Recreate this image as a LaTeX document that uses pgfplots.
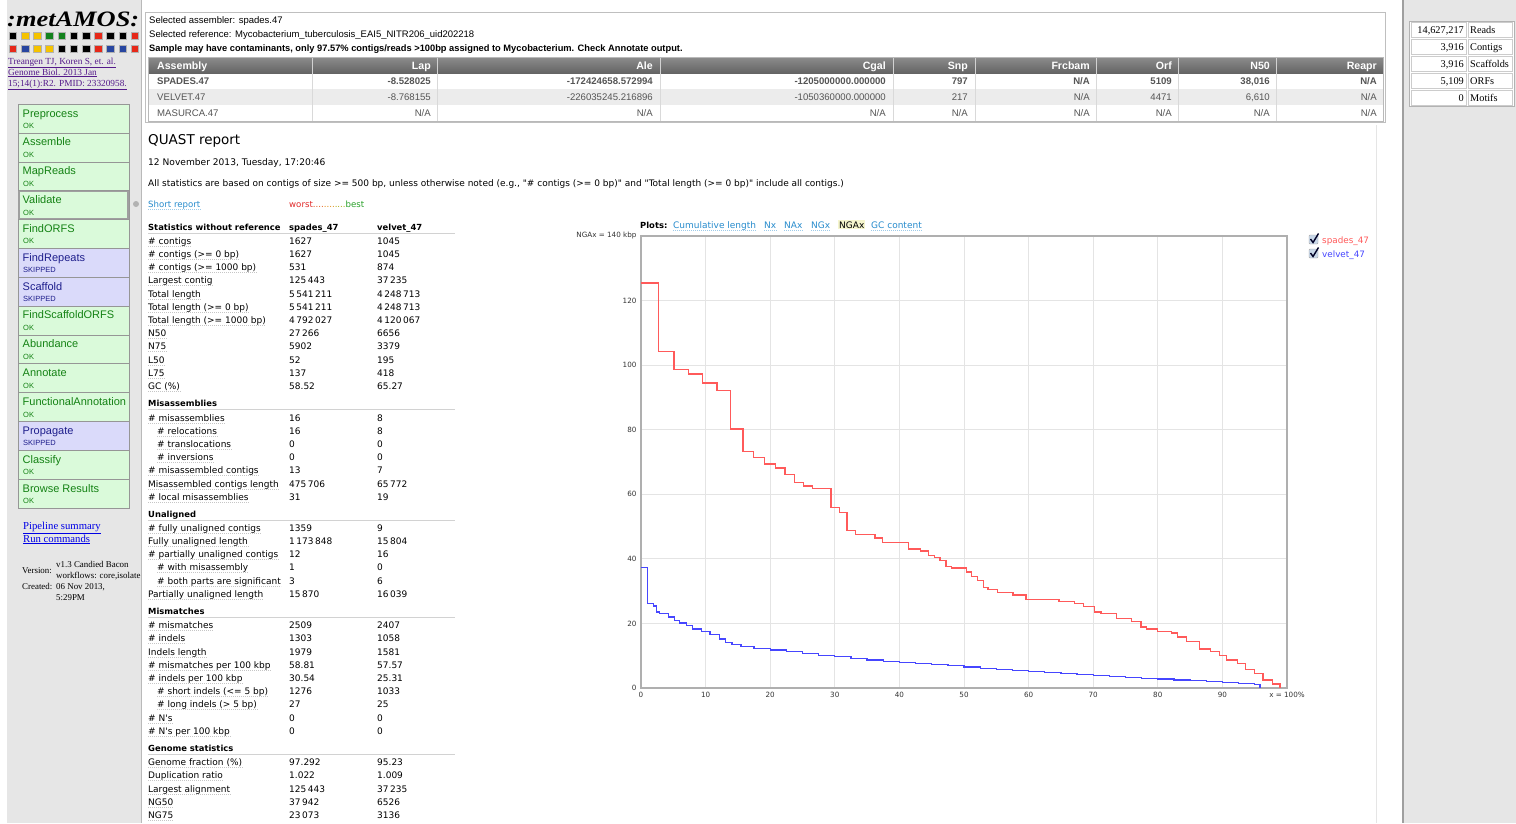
\documentclass[border=0pt]{standalone}
\usepackage{pgfplots}
\pgfplotsset{compat=1.18}
\usepackage{fontspec}
\setmainfont{Liberation Sans}
\newfontfamily\dv{DejaVu Sans}
\newfontfamily\tms{Liberation Serif}

\definecolor{sidebg}{RGB}{230,230,230}
\definecolor{okfill}{RGB}{218,250,218}
\definecolor{oktext}{RGB}{20,130,20}
\definecolor{skfill}{RGB}{218,218,250}
\definecolor{sktext}{RGB}{30,30,140}
\definecolor{btnborder}{RGB}{150,150,150}
\definecolor{linkblue}{RGB}{40,140,205}
\definecolor{spred}{RGB}{255,90,90}
\definecolor{vblue}{RGB}{70,70,255}
\definecolor{visited}{RGB}{85,26,139}
\definecolor{hdrtop}{RGB}{140,140,140}
\definecolor{hdrbot}{RGB}{100,100,100}
\definecolor{rowgray}{RGB}{236,236,236}
\definecolor{celltext}{RGB}{85,85,85}
\definecolor{gridgray}{RGB}{228,228,228}
\definecolor{framegray}{RGB}{175,175,175}
\definecolor{logoyel}{RGB}{245,195,0}
\definecolor{logogrn}{RGB}{20,130,30}
\definecolor{logored}{RGB}{230,40,25}
\definecolor{logoblu}{RGB}{40,70,160}
\definecolor{hl}{RGB}{245,245,205}

\newcommand\fs[1]{\fontsize{#1}{#1}\selectfont}

% sidebar button: top, name, status, kind (ok or sk)
\newcommand\btn[4]{%
  \draw[btnborder, fill=#4fill] (18,#1) rectangle (129,{#1+28.85});
  \node[anchor=base west, inner sep=0, text=#4text, font=\fs{11}] at (22.5,{#1+13}) {#2};
  \node[anchor=base west, inner sep=0, text=#4text, font=\fs{7.5}] at (23,{#1+24.5}) {#3};}

\tikzset{
  st/.style={anchor=base west, inner sep=0, font={\dv\fs{9}}},
  sb/.style={anchor=base west, inner sep=0, font={\dv\bfseries\fs{8.4}}},
  tb/.style={anchor=base west, inner sep=0, font=\fs{9.5}},
  tcell/.style={anchor=base east, inner sep=0, font=\fs{9.6}, text=celltext},
  thead/.style={anchor=base east, inner sep=0, font={\bfseries\fs{10.6}}, text=white},
}
% stats table helpers (y = text centre)
\newcommand\slab[3]{\node[st] (SL) at (#1,{#2+3}) {#3};
  \draw[gray!45, dash pattern=on 1pt off 1pt] ([yshift=-1.8pt]SL.base west) -- ([yshift=-1.8pt]SL.base east);}
\newcommand\srow[4]{\slab{148}{#1}{#2}\node[st] at (289,{#1+3}) {#3};\node[st] at (377,{#1+3}) {#4};}
\newcommand\ssub[4]{\slab{157}{#1}{#2}\node[st] at (289,{#1+3}) {#3};\node[st] at (377,{#1+3}) {#4};}
\newcommand\shead[2]{\node[sb] at (148,{#1+3}) {#2}; \draw[gray!35] (148,{#1+6.5}) -- (455,{#1+6.5});}
\newcommand\dlink[4][]{\node[anchor=base west, inner sep=0, text=linkblue, #1] (DL) at (#2,#3) {#4};
  \draw[linkblue!45, dash pattern=on 1pt off 1pt] ([yshift=-2pt]DL.base west) -- ([yshift=-2pt]DL.base east);}

\begin{document}
\begin{tikzpicture}
\begin{scope}[x=1pt,y=-1pt]
\path[use as bounding box] (0,0) rectangle (1516,823);
\fill[white] (0,0) rectangle (1516,823);

% ---- left sidebar
\fill[sidebg] (7,0) rectangle (141,823);
\draw[gray!55, line width=1pt] (141.5,0) -- (141.5,823);
\node[anchor=base west, inner sep=0, xscale=1.2, font={\tms\bfseries\itshape\fs{22}}] at (7,26) {:metAMOS:};
\foreach \c [count=\i from 0] in {black,logoyel,logoyel,logogrn,logogrn,black,black,logored,black,black,logored}
  \fill[\c, draw=gray!60, line width=0.4pt] ({9+12.2*\i},32) rectangle ++(7.5,7);
\foreach \c [count=\i from 0] in {logored,logoblu,logoyel,logoyel,black,black,black,logored,logoblu,logoblu,logored}
  \fill[\c, draw=gray!60, line width=0.4pt] ({9+12.2*\i},45) rectangle ++(7.5,7);
\foreach \t/\y in {{Treangen TJ, Koren S, et. al.}/64,{Genome Biol. 2013 Jan}/75,{15;14(1):R2. PMID: 23320958.}/86}
  \node[anchor=base west, inner sep=0, text=visited, font={\tms\fs{9.3}}] at (8,\y) {\underline{\t}};

\btn{104}{Preprocess}{OK}{ok}
\btn{132.85}{Assemble}{OK}{ok}
\btn{161.7}{MapReads}{OK}{ok}
\btn{190.55}{Validate}{OK}{ok}
\draw[gray!75, line width=1.3pt] (19,191.5) rectangle (128,218.5);
\fill[gray!60] (136,204) circle (3);
\btn{219.4}{FindORFS}{OK}{ok}
\btn{248.25}{FindRepeats}{SKIPPED}{sk}
\btn{277.1}{Scaffold}{SKIPPED}{sk}
\btn{305.95}{FindScaffoldORFS}{OK}{ok}
\btn{334.8}{Abundance}{OK}{ok}
\btn{363.65}{Annotate}{OK}{ok}
\btn{392.5}{FunctionalAnnotation}{OK}{ok}
\btn{421.35}{Propagate}{SKIPPED}{sk}
\btn{450.2}{Classify}{OK}{ok}
\btn{479.05}{Browse Results}{OK}{ok}

\node[anchor=base west, inner sep=0, text=blue!90!black, font={\tms\fs{10.7}}] at (23,529) {\underline{Pipeline summary}};
\node[anchor=base west, inner sep=0, text=blue!90!black, font={\tms\fs{10.7}}] at (23,542) {\underline{Run commands}};
\begin{scope}
\clip (0,0) rectangle (141,823);
\node[anchor=base west, inner sep=0, font={\tms\fs{8.9}}] at (22,573) {Version:};
\node[anchor=base west, inner sep=0, font={\tms\fs{8.9}}] at (56,567) {v1.3 Candied Bacon};
\node[anchor=base west, inner sep=0, font={\tms\fs{8.9}}] at (56,578) {workflows: core,isolate};
\node[anchor=base west, inner sep=0, font={\tms\fs{8.9}}] at (22,589) {Created:};
\node[anchor=base west, inner sep=0, font={\tms\fs{8.9}}] at (56,589) {06 Nov 2013,};
\node[anchor=base west, inner sep=0, font={\tms\fs{8.9}}] at (56,600) {5:29PM};
\end{scope}

% ---- right panel
\fill[sidebg] (1403,0) rectangle (1516,823);
\draw[gray!75, line width=1.5pt] (1403,0) -- (1403,823);
\draw[gray!20] (1376,125) -- (1376,823);
\fill[white] (1409,21) rectangle (1514,106);
\draw[gray!60] (1409,21) rectangle (1514,106);
\foreach \n/\l [count=\k from 0] in {{14,627,217}/Reads,{3,916}/Contigs,{3,916}/Scaffolds,{5,109}/ORFs,0/Motifs}{
  \draw[gray!40] (1411.5,{22.5+17*\k}) rectangle (1466,{37.5+17*\k});
  \draw[gray!40] (1468,{22.5+17*\k}) rectangle (1512,{37.5+17*\k});
  \node[anchor=base east, inner sep=0, font={\tms\fs{10.3}}] at (1464,{33.5+17*\k}) {\n};
  \node[anchor=base west, inner sep=0, font={\tms\fs{10.3}}] at (1470,{33.5+17*\k}) {\l};
}

% ---- top box
\draw[gray!50, fill=white] (145.5,12.5) rectangle (1385.5,122);
\node[tb] at (149,23) {Selected assembler: spades.47};
\node[tb] at (149,37) {Selected reference: Mycobacterium\_tuberculosis\_EAI5\_NITR206\_uid202218};
\node[tb, font={\bfseries\fs{9.3}}] at (149,51) {Sample may have contaminants, only 97.57\% contigs/reads >100bp assigned to Mycobacterium. Check Annotate output.};
\shade[top color=hdrtop, bottom color=hdrbot] (148,57) rectangle (1383,73);
\fill[rowgray] (148,89) rectangle (1383,105);
\foreach \x in {312,437,660,893,975,1096,1178,1276}{
  \draw[gray!30] (\x,73) -- (\x,121);
  \draw[gray!35] (\x,57) -- (\x,73);}
\draw[gray!55] (148,57) rectangle (1383,121);
\node[thead, anchor=base west] at (157,69) {Assembly};
\foreach \x/\h in {431/Lap,653/Ale,886/Cgal,968/Snp,1090/Frcbam,1172/Orf,1270/N50,1377/Reapr}
  \node[thead] at (\x,69) {\h};
\node[tcell, anchor=base west, font={\bfseries\fs{9.6}}] at (157,84.5) {SPADES.47};
\foreach \x/\v in {431/-8.528025,653/-172424658.572994,886/-1205000000.000000,968/797,1090/{N/A},1172/5109,1270/{38,016},1377/{N/A}}
  \node[tcell, font={\bfseries\fs{9.6}}] at (\x,84.5) {\v};
\node[tcell, anchor=base west] at (157,100.5) {VELVET.47};
\foreach \x/\v in {431/-8.768155,653/-226035245.216896,886/-1050360000.000000,968/217,1090/{N/A},1172/4471,1270/{6,610},1377/{N/A}}
  \node[tcell] at (\x,100.5) {\v};
\node[tcell, anchor=base west] at (157,116.5) {MASURCA.47};
\foreach \x in {431,653,886,968,1090,1172,1270,1377}
  \node[tcell] at (\x,116.5) {N/A};

% ---- QUAST header
\node[anchor=base west, inner sep=0, font={\dv\fs{13.5}}] at (148,144) {QUAST report};
\node[anchor=base west, inner sep=0, font={\dv\fs{9.1}}] at (148,165) {12 November 2013, Tuesday, 17:20:46};
\node[anchor=base west, inner sep=0, font={\dv\fs{9}}] at (148,186) {All statistics are based on contigs of size >= 500 bp, unless otherwise noted (e.g., "\# contigs (>= 0 bp)" and "Total length (>= 0 bp)" include all contigs.)};
\dlink[font={\dv\fs{8.6}}]{148}{207}{Short report}
\node[anchor=base west, inner sep=0, font={\dv\fs{8.6}}] at (289,207) {\textcolor[RGB]{225,40,40}{worst}\textcolor[RGB]{230,90,30}{....}\textcolor[RGB]{225,140,20}{....}\textcolor[RGB]{170,170,20}{....}\textcolor[RGB]{40,160,40}{best}};

% ---- stats table
\node[sb] at (148,230) {Statistics without reference};
\node[sb] at (289,230) {spades\_47};
\node[sb] at (377,230) {velvet\_47};
\draw[gray!35] (148,233.5) -- (455,233.5);
\srow{241}{\# contigs}{1627}{1045}
\srow{254}{\# contigs (>= 0 bp)}{1627}{1045}
\srow{267}{\# contigs (>= 1000 bp)}{531}{874}
\srow{280}{Largest contig}{125\,443}{37\,235}
\srow{294}{Total length}{5\,541\,211}{4\,248\,713}
\srow{307}{Total length (>= 0 bp)}{5\,541\,211}{4\,248\,713}
\srow{320}{Total length (>= 1000 bp)}{4\,792\,027}{4\,120\,067}
\srow{333}{N50}{27\,266}{6656}
\srow{346}{N75}{5902}{3379}
\srow{360}{L50}{52}{195}
\srow{373}{L75}{137}{418}
\srow{386}{GC (\%)}{58.52}{65.27}
\shead{403}{Misassemblies}
\srow{418}{\# misassemblies}{16}{8}
\ssub{431}{\# relocations}{16}{8}
\ssub{444}{\# translocations}{0}{0}
\ssub{457}{\# inversions}{0}{0}
\srow{470}{\# misassembled contigs}{13}{7}
\srow{484}{Misassembled contigs length}{475\,706}{65\,772}
\srow{497}{\# local misassemblies}{31}{19}
\shead{514}{Unaligned}
\srow{528}{\# fully unaligned contigs}{1359}{9}
\srow{541}{Fully unaligned length}{1\,173\,848}{15\,804}
\srow{554}{\# partially unaligned contigs}{12}{16}
\ssub{567}{\# with misassembly}{1}{0}
\ssub{581}{\# both parts are significant}{3}{6}
\srow{594}{Partially unaligned length}{15\,870}{16\,039}
\shead{611}{Mismatches}
\srow{625}{\# mismatches}{2509}{2407}
\srow{638}{\# indels}{1303}{1058}
\srow{652}{Indels length}{1979}{1581}
\srow{665}{\# mismatches per 100 kbp}{58.81}{57.57}
\srow{678}{\# indels per 100 kbp}{30.54}{25.31}
\ssub{691}{\# short indels (<= 5 bp)}{1276}{1033}
\ssub{704}{\# long indels (> 5 bp)}{27}{25}
\srow{718}{\# N's}{0}{0}
\srow{731}{\# N's per 100 kbp}{0}{0}
\shead{748}{Genome statistics}
\srow{762}{Genome fraction (\%)}{97.292}{95.23}
\srow{775}{Duplication ratio}{1.022}{1.009}
\srow{789}{Largest alignment}{125\,443}{37\,235}
\srow{802}{NG50}{37\,942}{6526}
\srow{815}{NG75}{23\,073}{3136}

% ---- plot header and legend
\node[sb] at (640,228) {Plots:};
\dlink[font={\dv\fs{9}}]{673}{228}{Cumulative length}
\dlink[font={\dv\fs{9}}]{764}{228}{Nx}
\dlink[font={\dv\fs{9}}]{784}{228}{NAx}
\dlink[font={\dv\fs{9}}]{811}{228}{NGx}
\node[anchor=base west, inner sep=1pt, fill=hl, font={\dv\fs{9}}] at (838,228) {NGAx};
\dlink[font={\dv\fs{9}}]{871}{228}{GC content}
\foreach \y/\c/\t in {235/spred/spades\_47,249/vblue/velvet\_47}{
  \draw[gray!70, fill={rgb,255:red,200;green,215;blue,232}, rounded corners=1pt] (1309,\y) rectangle ++(9,9);
  \draw[black!85!blue, line width=1.4pt] (1310.5,{\y+4}) -- (1313,{\y+7.5}) -- (1318.5,{\y-1.5});
  \node[anchor=base west, inner sep=0, text=\c, font={\dv\fs{8.8}}] at (1322,{\y+8}) {\t};
}
\end{scope}

\begin{axis}[
  at={(641pt,-688pt)}, anchor=south west,
  scale only axis, width=646pt, height=452pt,
  xmin=0, xmax=100, ymin=0, ymax=140,
  xtick={0,10,...,100},
  xticklabels={0,10,20,30,40,50,60,70,80,90,{x = 100\%}},
  ytick={0,20,...,140},
  yticklabels={0,20,40,60,80,100,120,{NGAx = 140 kbp}},
  grid=major,
  major grid style={draw=gridgray, line width=0.8pt},
  axis line style={draw=framegray, line width=1.6pt},
  major tick length=0pt,
  tick label style={font={\dv\fs{7.2}}, text=black!80},
  xticklabel style={yshift=-1pt},
  yticklabel style={xshift=-1pt},
]
\addplot[const plot, spred, line width=1.3pt] coordinates {
 (0,125.4) (2.68,104.3) (5.1,98.6) (7.4,97.3) (9.55,94.5) (11.76,92.2) (13.88,80.2)
 (15.8,73.3) (17.4,71.5) (19.1,69.4) (20.8,68.1) (22.3,66.2) (23.8,63.7) (25.1,62.6)
 (26.6,61.8) (29.4,55.9) (30.7,54.4) (31.9,48.7) (33.2,47.6) (36.2,46.5) (37.4,45.0)
 (41.4,43.1) (43.3,42.4) (44.5,41.1) (45.4,40.4) (46.3,39.4) (47.2,37.7) (48.1,37.2)
 (50.4,35.9) (51.2,34.6) (52.1,33.4) (53.0,31.1) (53.7,30.5) (55.2,29.6) (57.6,28.8)
 (59.6,27.5) (64.7,26.8) (67.1,26.1) (68.5,25.3) (70.2,23.5) (71.2,23.0) (73.6,21.5)
 (75.9,20.6) (77.4,18.9) (78.3,18.3) (80.0,17.6) (82.1,17.0) (83.1,15.8) (84.4,14.4)
 (86.5,12.1) (88.2,11.4) (89.5,10.1) (90.6,8.7) (92.3,7.7) (93.6,5.8) (95.0,4.4)
 (96.3,2.5) (97.7,1.2) (98.9,0)
};
\addplot[const plot, vblue, line width=1.3pt] coordinates {
 (0,37.3) (1.0,26.1) (1.9,25.4) (2.4,23.5) (2.9,23.0) (4.3,22.0) (5.2,20.9) (6.0,20.1)
 (7.0,19.4) (8.0,18.3) (9.4,17.6) (10.7,16.6) (12.1,15.2) (13.1,14.2) (14.1,13.5)
 (15.5,12.8) (17.5,12.2) (20.0,11.8) (22.5,11.3) (25.0,10.6) (27.5,10.0) (30.0,9.7)
 (32.5,9.2) (35.0,8.7) (37.5,8.3) (40.0,7.9) (42.5,7.6) (45.0,7.2) (47.5,6.9) (50.0,6.5)
 (52.5,6.1) (55.0,5.8) (57.5,5.4) (60.0,5.1) (62.5,4.8) (65.0,4.5) (67.5,4.2) (70.0,3.8)
 (72.5,3.6) (75.0,3.3) (77.5,3.0) (80.0,2.8) (82.5,2.5) (85.0,2.3) (87.5,2.0) (90.0,1.7)
 (92.5,1.4) (95.0,1.0) (95.8,0)
};
\end{axis}
\end{tikzpicture}
\end{document}
